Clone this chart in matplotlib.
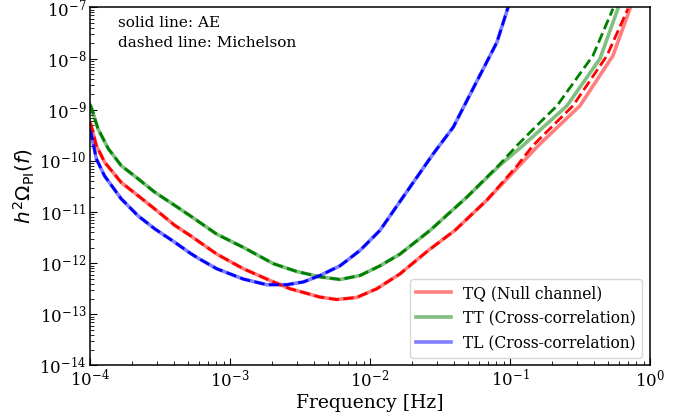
import matplotlib
matplotlib.use("Agg")
import matplotlib.pyplot as plt

plt.rcParams['font.family'] = 'serif'
plt.rcParams['font.serif'] = ['DejaVu Serif']
plt.rcParams['mathtext.fontset'] = 'dejavuserif'

# TQ (Null channel)
f_tq = [1.00e-4, 1.02e-4, 1.11e-4, 1.27e-4, 1.67e-4, 2.20e-4, 2.90e-4, 4.03e-4, 5.18e-4,
        8.04e-4, 1.245e-3, 1.93e-3, 2.69e-3, 3.16e-3, 4.35e-3, 5.78e-3, 8.04e-3, 1.117e-2,
        1.64e-2, 2.61e-2, 4.05e-2, 6.82e-2, 0.1117, 0.1592, 0.3162, 0.5445, 0.7194]
tq_ae = [5.6e-10, 4.9e-10, 2.0e-10, 9.5e-11, 3.8e-11, 2.1e-11, 1.15e-11, 5.5e-12, 3.5e-12,
         1.51e-12, 7.8e-13, 4.6e-13, 3.16e-13, 2.8e-13, 2.19e-13, 1.95e-13, 2.14e-13, 3.16e-13,
         6.2e-13, 1.78e-12, 4.4e-12, 1.7e-11, 7.1e-11, 2.0e-10, 1.2e-9, 1.15e-8, 9.5e-8]
# Michelson tail (below 0.07 Hz the two coincide)
f_tq_mich_tail = [0.1117, 0.1459, 0.2818, 0.4932, 0.6966]
tq_mich_tail = [7.9e-11, 2.0e-10, 1.2e-9, 1.15e-8, 9.5e-8]

# TT (Cross-correlation)
f_tt = [1.00e-4, 1.02e-4, 1.14e-4, 1.35e-4, 1.67e-4, 2.20e-4, 2.90e-4, 4.03e-4, 5.18e-4,
        8.04e-4, 1.245e-3, 2.04e-3, 2.99e-3, 4.40e-3, 6.11e-3, 8.49e-3, 1.18e-2, 1.64e-2,
        2.69e-2, 4.91e-2, 8.49e-2, 0.1239, 0.2553, 0.4395, 0.5902]
tt_ae = [1.26e-9, 1.12e-9, 4.27e-10, 1.74e-10, 8.1e-11, 4.5e-11, 2.45e-11, 1.35e-11, 8.5e-12,
         3.7e-12, 2.04e-12, 9.8e-13, 6.9e-13, 5.4e-13, 4.8e-13, 5.75e-13, 8.9e-13, 1.51e-12,
         4.4e-12, 1.95e-11, 8.3e-11, 2.0e-10, 1.2e-9, 1.0e-8, 9.5e-8]
f_tt_mich_tail = [8.49e-2, 0.1122, 0.1552, 0.2168, 0.3917, 0.5445]
tt_mich_tail = [8.7e-11, 2.0e-10, 4.9e-10, 1.2e-9, 1.15e-8, 9.5e-8]

# TL (Cross-correlation), AE and Michelson overlap
f_tl = [1.00e-4, 1.02e-4, 1.11e-4, 1.27e-4, 1.67e-4, 2.20e-4, 2.90e-4, 4.03e-4, 5.18e-4,
        5.90e-4, 8.04e-4, 1.245e-3, 1.83e-3, 2.54e-3, 3.34e-3, 4.40e-3, 6.11e-3, 8.49e-3,
        1.18e-2, 1.64e-2, 2.83e-2, 3.94e-2, 5.45e-2, 8.07e-2, 9.68e-2]
tl = [4.0e-10, 3.39e-10, 1.10e-10, 5.1e-11, 1.82e-11, 8.5e-12, 4.7e-12, 2.57e-12, 1.58e-12,
      1.26e-12, 7.8e-13, 4.9e-13, 3.8e-13, 3.8e-13, 4.3e-13, 5.75e-13, 8.9e-13, 1.78e-12,
      4.4e-12, 1.62e-11, 1.38e-10, 4.6e-10, 2.6e-9, 2.1e-8, 1.0e-7]

labels = ['TQ (Null channel)', 'TT (Cross-correlation)', 'TL (Cross-correlation)']
colors = ['r', 'g', 'b']

# michelson = shared low-frequency part + own tail
f_tq_m = [f for f in f_tq if f < 0.1] + f_tq_mich_tail
tq_m = [v for f, v in zip(f_tq, tq_ae) if f < 0.1] + tq_mich_tail
f_tt_m = [f for f in f_tt if f < 0.08] + f_tt_mich_tail
tt_m = [v for f, v in zip(f_tt, tt_ae) if f < 0.08] + tt_mich_tail

fig = plt.figure(figsize=(6.96, 4.18), dpi=100)
ax = fig.add_axes([0.1293, 0.1256, 0.8046, 0.8565])

ae = [(f_tq, tq_ae), (f_tt, tt_ae), (f_tl, tl)]
mich = [(f_tq_m, tq_m), (f_tt_m, tt_m), (f_tl, tl)]

for (x, y), c, lab in zip(ae, colors, labels):
    ax.loglog(x, y, color=c, alpha=0.5, lw=2.6, label=lab)
for (x, y), c in zip(mich, colors):
    ax.loglog(x, y, color=c, ls='--', lw=2.0)

ax.set_xlim(1e-4, 1)
ax.set_ylim(1e-14, 1e-7)
ax.tick_params(which='both', direction='in', top=False, right=False, labelsize=12, pad=2.5)
ax.tick_params(which='major', length=5)
ax.tick_params(which='minor', length=3)
for sp in ax.spines.values():
    sp.set_linewidth(1.1)

ax.set_xlabel('Frequency [Hz]', fontsize=13.5, labelpad=2)
ax.set_ylabel(r'$h^2\Omega_{\rm PI}(f)$', fontsize=14.5, math_fontfamily='dejavusans', labelpad=2)

ax.text(0.05, 0.975, 'solid line: AE\ndashed line: Michelson', transform=ax.transAxes,
        fontsize=11, va='top', ha='left', linespacing=1.5)

ax.legend(loc='lower right', fontsize=11.2, handlelength=2.2)

fig.savefig('out.png', dpi=100)
